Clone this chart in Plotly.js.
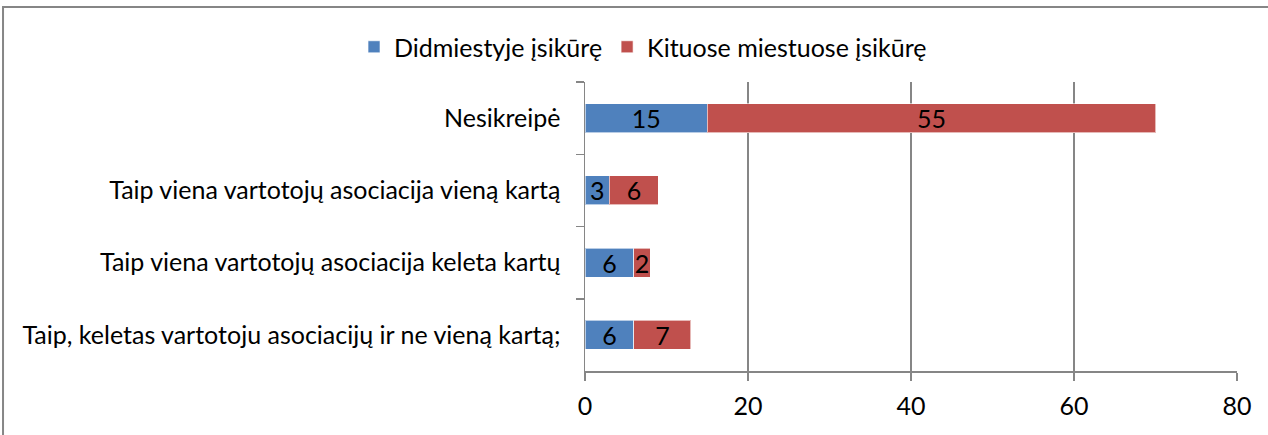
<!DOCTYPE html>
<html><head><meta charset="utf-8">
<script src="https://cdn.plot.ly/plotly-3.0.1.min.js"></script>
<style>html,body{margin:0;padding:0;background:#fff}#chart{width:1268px;height:435px}</style>
</head><body><div id="chart"></div>
<script>
const categories = [
  "Nesikreipė",
  "Taip viena vartotojų asociacija vieną kartą",
  "Taip viena vartotojų asociacija keleta kartų",
  "Taip, keletas vartotoju asociacijų ir ne vieną kartą;"
];
const seriesNames = ["Didmiestyje įsikūrę", "Kituose miestuose įsikūrę"];
const bigCity = [15, 3, 6, 6];
const otherCities = [55, 6, 2, 7];
const xTicks = [0, 20, 40, 60, 80];

const FONT = "Lato, 'Open Sans', sans-serif";
const FS = 25;
function trace(name, vals, color) {
  return {
    type: "bar", orientation: "h", name: name,
    y: categories, x: vals,
    text: vals.map(String), textposition: "inside", insidetextanchor: "middle",
    textangle: 0, constraintext: "none",
    textfont: {family: FONT, size: FS, color: "#000"},
    marker: {color: color, line: {color: "rgba(255,255,255,0.6)", width: 1}},
    hoverinfo: "x+y"
  };
}
const data = [trace(seriesNames[0], bigCity, "#4F81BD"), trace(seriesNames[1], otherCities, "#C0504D")];
const layout = {
  width: 1268, height: 435,
  margin: {l: 585, r: 31, t: 82, b: 64, pad: 0},
  barmode: "stack", bargap: 0.6,
  paper_bgcolor: "#fff", plot_bgcolor: "#fff",
  font: {family: FONT, size: FS, color: "#000"},
  showlegend: true,
  legend: {orientation: "h", x: 0.089, xanchor: "center", y: 1.121, yanchor: "middle",
           font: {family: FONT, size: FS, color: "#000"}, traceorder: "normal"},
  xaxis: {range: [0, 80], tickvals: xTicks, ticktext: xTicks.map(String),
          showgrid: true, gridcolor: "#868686", gridwidth: 1.5,
          showline: true, linecolor: "#868686", linewidth: 1.5,
          ticks: "outside", ticklen: 8, tickcolor: "#868686", tickwidth: 1.5,
          ticklabelstandoff: 4, zeroline: false, fixedrange: true},
  yaxis: {type: "category", autorange: "reversed", tickson: "boundaries",
          showgrid: false, showline: true, linecolor: "#868686", linewidth: 1.5,
          ticks: "outside", ticklen: 8, tickcolor: "#868686", tickwidth: 1.5,
          ticklabelstandoff: 18, fixedrange: true},
  shapes: [{type: "rect", xref: "paper", yref: "paper",
            x0: -0.8926, x1: 1.2, y0: -0.5, y1: 1.2595,
            line: {color: "#868686", width: 2}, layer: "below"}]
};
Plotly.newPlot("chart", data, layout, {displayModeBar: false, staticPlot: true});
</script></body></html>
